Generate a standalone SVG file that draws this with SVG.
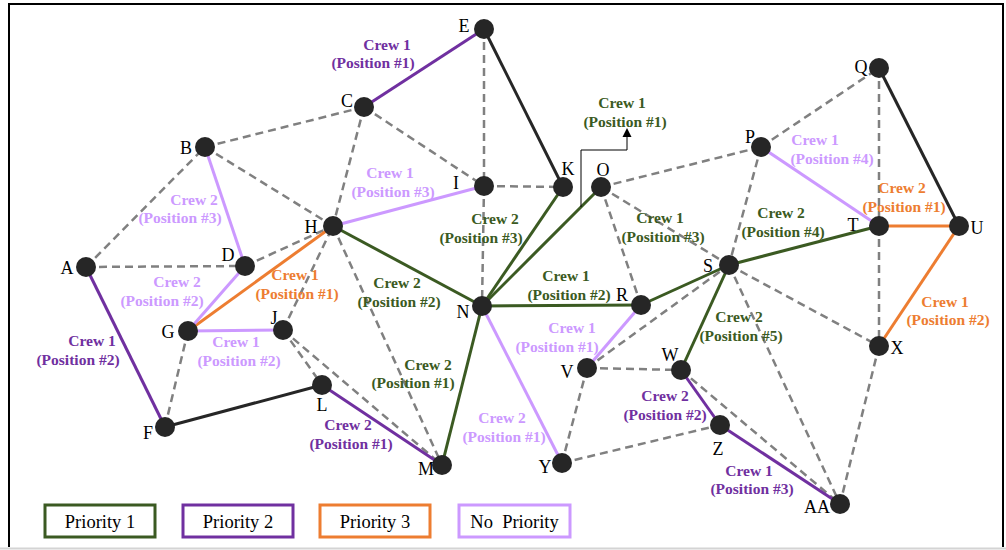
<svg xmlns="http://www.w3.org/2000/svg" width="1006" height="550" viewBox="0 0 1006 550">
  <defs>
    <marker id="tip" viewBox="0 0 10 10" refX="0" refY="5" markerWidth="9" markerHeight="10" markerUnits="userSpaceOnUse" orient="auto">
      <path d="M0,0 L10,5 L0,10 Z" fill="#000"/>
    </marker>
    <style>
      .dash { stroke: #808080; stroke-width: 2.5; stroke-dasharray: 8 5; fill: none; }
      .p1 { stroke: #3b5a22; stroke-width: 3; fill: none; }
      .p2 { stroke: #7030a0; stroke-width: 3; fill: none; }
      .p3 { stroke: #ed7d31; stroke-width: 3; fill: none; }
      .np { stroke: #cc99ff; stroke-width: 3; fill: none; }
      .blk { stroke: #262626; stroke-width: 3; fill: none; }
      .node circle { fill: #262626; }
      .node text { font-family: "Liberation Serif", "Times New Roman", serif; font-size: 18px; fill: #000; text-anchor: middle; }
      .lbl { font-family: "Liberation Serif", "Times New Roman", serif; font-size: 15.5px; font-weight: bold; text-anchor: middle; }
      .t1 { fill: #3b5a22; }
      .t2 { fill: #7030a0; }
      .t3 { fill: #ed7d31; }
      .tn { fill: #cc99ff; }
      .legend rect { fill: #fff; stroke-width: 3; }
      .legend text { font-family: "Liberation Serif", "Times New Roman", serif; font-size: 18.5px; fill: #000; text-anchor: middle; }
    </style>
  </defs>

  <rect x="0" y="0" width="1006" height="550" fill="#fff"/>
  <!-- frame -->
  <path d="M9,547 L9,4 L1003,4 L1003,547" fill="none" stroke="#000" stroke-width="2"/>
  <line x1="0" y1="548.5" x2="1006" y2="548.5" stroke="#d4d4d4" stroke-width="2"/>

  <g id="connectors">
    <!-- unassigned links -->
    <g class="dash">
      <line x1="86" y1="267" x2="205" y2="147"/>
      <line x1="86" y1="267" x2="245" y2="266"/>
      <line x1="205" y1="147" x2="364" y2="107"/>
      <line x1="205" y1="147" x2="333" y2="226"/>
      <line x1="364" y1="107" x2="333" y2="226"/>
      <line x1="364" y1="107" x2="484" y2="186"/>
      <line x1="245" y1="266" x2="333" y2="226"/>
      <line x1="484" y1="29" x2="484" y2="186"/>
      <line x1="484" y1="186" x2="482" y2="306"/>
      <line x1="484" y1="186" x2="563" y2="187"/>
      <line x1="188" y1="331" x2="165" y2="427"/>
      <line x1="283" y1="330" x2="333" y2="226"/>
      <line x1="333" y1="226" x2="442" y2="465"/>
      <line x1="283" y1="330" x2="322" y2="385"/>
      <line x1="283" y1="330" x2="442" y2="465"/>
      <line x1="601" y1="187" x2="761" y2="147"/>
      <line x1="761" y1="147" x2="879" y2="68"/>
      <line x1="879" y1="68" x2="879" y2="226"/>
      <line x1="879" y1="226" x2="879" y2="346"/>
      <line x1="761" y1="147" x2="729" y2="265"/>
      <line x1="601" y1="187" x2="641" y2="305"/>
      <line x1="601" y1="187" x2="729" y2="265"/>
      <line x1="587" y1="368" x2="729" y2="265"/>
      <line x1="587" y1="368" x2="681" y2="370"/>
      <line x1="587" y1="368" x2="562" y2="463"/>
      <line x1="562" y1="463" x2="720" y2="425"/>
      <line x1="729" y1="265" x2="879" y2="346"/>
      <line x1="729" y1="265" x2="840" y2="504"/>
      <line x1="681" y1="370" x2="840" y2="504"/>
      <line x1="879" y1="346" x2="840" y2="504"/>
    </g>
    <!-- priority 1 -->
    <g class="p1">
      <line x1="333" y1="226" x2="482" y2="306"/>
      <line x1="482" y1="306" x2="563" y2="187"/>
      <line x1="482" y1="306" x2="601" y2="187"/>
      <line x1="482" y1="306" x2="641" y2="305"/>
      <line x1="482" y1="306" x2="442" y2="465"/>
      <line x1="641" y1="305" x2="729" y2="265"/>
      <line x1="729" y1="265" x2="879" y2="226"/>
      <line x1="729" y1="265" x2="681" y2="370"/>
    </g>
    <!-- priority 2 -->
    <g class="p2">
      <line x1="364" y1="107" x2="484" y2="29"/>
      <line x1="86" y1="267" x2="165" y2="427"/>
      <line x1="322" y1="385" x2="442" y2="465"/>
      <line x1="681" y1="370" x2="720" y2="425"/>
      <line x1="720" y1="425" x2="840" y2="504"/>
    </g>
    <!-- priority 3 -->
    <g class="p3">
      <line x1="188" y1="331" x2="333" y2="226"/>
      <line x1="879" y1="226" x2="959" y2="226"/>
      <line x1="959" y1="226" x2="879" y2="346"/>
    </g>
    <!-- no priority -->
    <g class="np">
      <line x1="205" y1="147" x2="245" y2="266"/>
      <line x1="245" y1="266" x2="188" y2="331"/>
      <line x1="188" y1="331" x2="283" y2="330"/>
      <line x1="333" y1="226" x2="484" y2="186"/>
      <line x1="482" y1="306" x2="562" y2="463"/>
      <line x1="641" y1="305" x2="587" y2="368"/>
      <line x1="761" y1="147" x2="879" y2="226"/>
    </g>
    <!-- other links -->
    <g class="blk">
      <line x1="484" y1="29" x2="563" y2="187"/>
      <line x1="165" y1="427" x2="322" y2="385"/>
      <line x1="879" y1="68" x2="959" y2="226"/>
    </g>
    <!-- callout to the N-O label -->
    <polyline points="581,207 581,150 627,150 627,137" fill="none" stroke="#000" stroke-width="1" marker-end="url(#tip)"/>
  </g>

  <g id="nodes">
    <g id="node-A" class="node"><circle cx="86" cy="267" r="10"/><text x="67" y="274">A</text></g>
    <g id="node-B" class="node"><circle cx="205" cy="147" r="10"/><text x="186" y="154">B</text></g>
    <g id="node-C" class="node"><circle cx="364" cy="107" r="10"/><text x="347" y="107">C</text></g>
    <g id="node-D" class="node"><circle cx="245" cy="266" r="10"/><text x="228" y="261">D</text></g>
    <g id="node-E" class="node"><circle cx="484" cy="29" r="10"/><text x="464" y="32">E</text></g>
    <g id="node-F" class="node"><circle cx="165" cy="427" r="10"/><text x="148" y="439">F</text></g>
    <g id="node-G" class="node"><circle cx="188" cy="331" r="10"/><text x="168" y="338">G</text></g>
    <g id="node-H" class="node"><circle cx="333" cy="226" r="10"/><text x="311" y="233">H</text></g>
    <g id="node-I" class="node"><circle cx="484" cy="186" r="10"/><text x="456" y="189">I</text></g>
    <g id="node-J" class="node"><circle cx="283" cy="330" r="10"/><text x="274" y="324">J</text></g>
    <g id="node-K" class="node"><circle cx="563" cy="187" r="10"/><text x="568" y="175">K</text></g>
    <g id="node-L" class="node"><circle cx="322" cy="385" r="10"/><text x="322" y="411">L</text></g>
    <g id="node-M" class="node"><circle cx="442" cy="465" r="10"/><text x="426" y="475">M</text></g>
    <g id="node-N" class="node"><circle cx="482" cy="306" r="10"/><text x="463" y="318">N</text></g>
    <g id="node-O" class="node"><circle cx="601" cy="187" r="10"/><text x="603" y="176">O</text></g>
    <g id="node-P" class="node"><circle cx="761" cy="147" r="10"/><text x="750" y="143">P</text></g>
    <g id="node-Q" class="node"><circle cx="879" cy="68" r="10"/><text x="861" y="73">Q</text></g>
    <g id="node-R" class="node"><circle cx="641" cy="305" r="10"/><text x="622" y="301">R</text></g>
    <g id="node-S" class="node"><circle cx="729" cy="265" r="10"/><text x="708" y="272">S</text></g>
    <g id="node-T" class="node"><circle cx="879" cy="226" r="10"/><text x="853" y="231">T</text></g>
    <g id="node-U" class="node"><circle cx="959" cy="226" r="10"/><text x="977" y="234">U</text></g>
    <g id="node-V" class="node"><circle cx="587" cy="368" r="10"/><text x="567" y="378">V</text></g>
    <g id="node-W" class="node"><circle cx="681" cy="370" r="10"/><text x="670" y="361">W</text></g>
    <g id="node-X" class="node"><circle cx="879" cy="346" r="10"/><text x="897" y="354">X</text></g>
    <g id="node-Y" class="node"><circle cx="562" cy="463" r="10"/><text x="545" y="473">Y</text></g>
    <g id="node-Z" class="node"><circle cx="720" cy="425" r="10"/><text x="718" y="455">Z</text></g>
    <g id="node-AA" class="node"><circle cx="840" cy="504" r="10"/><text x="817" y="513">AA</text></g>
  </g>

  <g id="labels" class="lbl">
    <text class="t2"><tspan x="387" y="50">Crew 1</tspan><tspan x="373" y="68">(Position #1)</tspan></text>
    <text class="tn"><tspan x="194" y="205">Crew 2</tspan><tspan x="180" y="223">(Position #3)</tspan></text>
    <text class="tn"><tspan x="390" y="178">Crew 1</tspan><tspan x="393" y="197">(Position #3)</tspan></text>
    <text class="t1"><tspan x="495" y="224">Crew 2</tspan><tspan x="481" y="243">(Position #3)</tspan></text>
    <text class="t1"><tspan x="622" y="108">Crew 1</tspan><tspan x="625" y="127">(Position #1)</tspan></text>
    <text class="t1"><tspan x="660" y="223">Crew 1</tspan><tspan x="663" y="242">(Position #3)</tspan></text>
    <text class="t1"><tspan x="566" y="281">Crew 1</tspan><tspan x="569" y="300">(Position #2)</tspan></text>
    <text class="tn"><tspan x="572" y="333">Crew 1</tspan><tspan x="557" y="352">(Position #1)</tspan></text>
    <text class="t1"><tspan x="781" y="218">Crew 2</tspan><tspan x="783" y="237">(Position #4)</tspan></text>
    <text class="tn"><tspan x="815" y="145">Crew 1</tspan><tspan x="832" y="164">(Position #4)</tspan></text>
    <text class="t3"><tspan x="902" y="193">Crew 2</tspan><tspan x="904" y="212">(Position #1)</tspan></text>
    <text class="t3"><tspan x="945" y="307">Crew 1</tspan><tspan x="948" y="325">(Position #2)</tspan></text>
    <text class="t1"><tspan x="739" y="322">Crew 2</tspan><tspan x="741" y="341">(Position #5)</tspan></text>
    <text class="t2"><tspan x="665" y="401">Crew 2</tspan><tspan x="665" y="420">(Position #2)</tspan></text>
    <text class="t2"><tspan x="749" y="476">Crew 1</tspan><tspan x="752" y="494">(Position #3)</tspan></text>
    <text class="tn"><tspan x="502" y="423">Crew 2</tspan><tspan x="504" y="442">(Position #1)</tspan></text>
    <text class="t1"><tspan x="428" y="370">Crew 2</tspan><tspan x="413" y="388">(Position #1)</tspan></text>
    <text class="t1"><tspan x="397" y="288">Crew 2</tspan><tspan x="399" y="307">(Position #2)</tspan></text>
    <text class="t2"><tspan x="348" y="430">Crew 2</tspan><tspan x="351" y="449">(Position #1)</tspan></text>
    <text class="tn"><tspan x="236" y="347">Crew 1</tspan><tspan x="239" y="366">(Position #2)</tspan></text>
    <text class="tn"><tspan x="177" y="287">Crew 2</tspan><tspan x="162" y="306">(Position #2)</tspan></text>
    <text class="t3"><tspan x="295" y="280">Crew 1</tspan><tspan x="297" y="299">(Position #1)</tspan></text>
    <text class="t2"><tspan x="92" y="346">Crew 1</tspan><tspan x="78" y="365">(Position #2)</tspan></text>
  </g>

  <g id="legend" class="legend">
    <g id="legend-p1"><rect x="45" y="505" width="110" height="32" stroke="#3b5a22"/><text x="100" y="528">Priority 1</text></g>
    <g id="legend-p2"><rect x="183" y="505" width="110" height="32" stroke="#7030a0"/><text x="238" y="528">Priority 2</text></g>
    <g id="legend-p3"><rect x="320" y="505" width="110" height="32" stroke="#ed7d31"/><text x="375" y="528">Priority 3</text></g>
    <g id="legend-np"><rect x="459" y="505" width="111" height="32" stroke="#cc99ff"/><text x="514.5" y="528" xml:space="preserve">No  Priority</text></g>
  </g>
</svg>
